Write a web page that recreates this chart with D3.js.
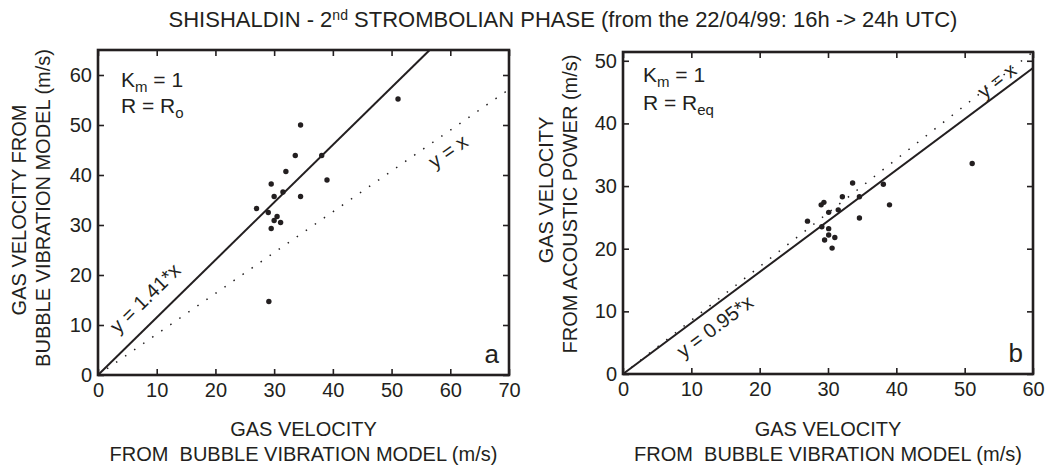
<!DOCTYPE html>
<html>
<head>
<meta charset="utf-8">
<script src="https://cdn.jsdelivr.net/npm/d3@7"></script>
<style>
  html, body { margin: 0; padding: 0; background: #fff; }
  svg { display: block; }
  text { font-family: "Liberation Sans", Arial, Helvetica, sans-serif; fill: #231f20; }
</style>
</head>
<body>
<svg id="chart" width="1047" height="466"></svg>
<script>
// Panel a: bubble-vibration velocity (x) vs. bubble-vibration velocity, K_m = 1, R = Ro (y)
const panelAX = [51.1, 34.5, 33.6, 38.1, 32.0, 29.5, 39.0, 30.0, 31.5, 34.5, 27.0, 29.0, 30.5, 30.0, 31.1, 29.5, 29.1];
const panelAY = [55.2, 50.0, 43.9, 43.9, 40.7, 38.2, 39.0, 35.7, 36.6, 35.7, 33.3, 32.5, 31.7, 30.9, 30.5, 29.3, 14.7];

// Panel b: bubble-vibration velocity (x) vs. acoustic-power velocity (y)
const panelBX = [33.6, 32.1, 34.6, 29.4, 29.0, 30.1, 31.5, 27.0, 34.6, 29.1, 30.1, 30.1, 29.5, 31.0, 30.6, 38.1, 39.0, 51.1];
const panelBY = [30.5, 28.3, 28.3, 27.4, 27.0, 25.8, 26.2, 24.4, 24.9, 23.5, 23.2, 22.2, 21.4, 21.8, 20.1, 30.3, 27.0, 33.6];

// Axis extents and tick values
const panelAXDomain = [0, 70];
const panelAYDomain = [0, 65];
const panelAXTicks = [0, 10, 20, 30, 40, 50, 60, 70];
const panelAYTicks = [0, 10, 20, 30, 40, 50, 60];

const panelBXDomain = [0, 60];
const panelBYDomain = [0, 51.4];
const panelBXTicks = [0, 10, 20, 30, 40, 50, 60];
const panelBYTicks = [0, 10, 20, 30, 40, 50];

// Reference lines y = k*x; "unit" is the plotted slope of y = x against the labelled axes
const panelAUnitSlope = 0.816;
const panelALines = [
  { k: 1,    label: "y = x",      dotted: true  },
  { k: 1.41, label: "y = 1.41*x", dotted: false }
];
const panelBUnitSlope = 0.857;
const panelBLines = [
  { k: 1,    label: "y = x",      dotted: true  },
  { k: 0.95, label: "y = 0.95*x", dotted: false }
];

const INK = "#231f20";
const svg = d3.select("#chart");

// Title with superscript ordinal
const title = svg.append("text")
  .attr("x", 563).attr("y", 27)
  .attr("text-anchor", "middle")
  .style("font-size", "22px");
title.append("tspan").text("SHISHALDIN - 2");
title.append("tspan").attr("dy", -7).style("font-size", "14px").text("nd");
title.append("tspan").attr("dy", 7).text(" STROMBOLIAN PHASE (from the 22/04/99: 16h -> 24h UTC)");

function drawPanel(cfg) {
  const x = d3.scaleLinear().domain(cfg.xDomain).range([cfg.left, cfg.right]);
  const y = d3.scaleLinear().domain(cfg.yDomain).range([cfg.bottom, cfg.top]);
  const g = svg.append("g");

  const styleAxis = sel => {
    sel.select(".domain").remove();
    sel.selectAll(".tick line").attr("stroke", INK).attr("stroke-width", 1.6);
    sel.selectAll(".tick text").attr("fill", INK)
      .style("font-family", '"Liberation Sans", Arial, sans-serif')
      .style("font-size", "20px");
  };

  g.append("g").attr("transform", `translate(0,${cfg.bottom})`)
    .call(d3.axisBottom(x).tickValues(cfg.xTicks).tickSizeInner(-6).tickSizeOuter(0).tickPadding(8))
    .call(styleAxis);
  g.append("g").attr("transform", `translate(0,${cfg.top})`)
    .call(d3.axisTop(x).tickValues(cfg.xTicks).tickSizeInner(-6).tickSizeOuter(0).tickFormat(""))
    .call(styleAxis);
  g.append("g").attr("transform", `translate(${cfg.left},0)`)
    .call(d3.axisLeft(y).tickValues(cfg.yTicks).tickSizeInner(-6).tickSizeOuter(0).tickPadding(6))
    .call(styleAxis);
  g.append("g").attr("transform", `translate(${cfg.right},0)`)
    .call(d3.axisRight(y).tickValues(cfg.yTicks).tickSizeInner(-6).tickSizeOuter(0).tickFormat(""))
    .call(styleAxis);

  // Reference lines through the origin, clipped to the frame
  cfg.lines.forEach(l => {
    const slope = l.k * cfg.unitSlope;
    const xEnd = Math.min(cfg.xDomain[1], cfg.yDomain[1] / slope);
    g.append("line")
      .attr("x1", x(0)).attr("y1", y(0))
      .attr("x2", x(xEnd)).attr("y2", y(slope * xEnd))
      .attr("stroke", INK)
      .attr("stroke-width", l.dotted ? 1.5 : 2)
      .attr("stroke-dasharray", l.dotted ? "1.5,9.5" : null);
  });

  // Data points
  g.selectAll("circle.pt")
    .data(cfg.xs.map((v, i) => [v, cfg.ys[i]]))
    .join("circle")
    .attr("class", "pt")
    .attr("cx", d => x(d[0])).attr("cy", d => y(d[1]))
    .attr("r", 2.7)
    .attr("fill", INK);

  // Frame
  g.append("rect")
    .attr("x", cfg.left).attr("y", cfg.top)
    .attr("width", cfg.right - cfg.left).attr("height", cfg.bottom - cfg.top)
    .attr("fill", "none").attr("stroke", INK).attr("stroke-width", 2.6);

  // Line labels, rotated along their lines (one position per entry of cfg.lines)
  cfg.lineLabels.forEach((p, i) => {
    const l = cfg.lines[i];
    const slope = l.k * cfg.unitSlope;
    const dxPix = x(10) - x(0), dyPix = y(0) - y(10 * slope);
    const ang = -Math.atan2(dyPix, dxPix) * 180 / Math.PI;
    g.append("text")
      .attr("transform", `translate(${p[0]},${p[1]}) rotate(${ang})`)
      .attr("text-anchor", "middle")
      .style("font-size", "20px")
      .text(l.label);
  });

  // Parameter annotation
  const k = g.append("text").attr("x", cfg.noteX).attr("y", cfg.noteY).style("font-size", "21px");
  k.append("tspan").text("K");
  k.append("tspan").attr("dy", 5).style("font-size", "15px").text("m");
  k.append("tspan").attr("dy", -5).text(" = 1");
  const r = g.append("text").attr("x", cfg.noteX).attr("y", cfg.noteY + cfg.noteGap).style("font-size", "21px");
  r.append("tspan").text("R = R");
  r.append("tspan").attr("dy", 5).style("font-size", "15px").text(cfg.rSub);

  // Panel letter
  g.append("text")
    .attr("x", cfg.right - 10).attr("y", cfg.bottom - 12)
    .attr("text-anchor", "end")
    .style("font-size", "26px")
    .text(cfg.letter);

  // X axis title
  const cx = (cfg.left + cfg.right) / 2;
  g.append("text").attr("x", cx).attr("y", 436).attr("text-anchor", "middle")
    .style("font-size", "20px").text("GAS VELOCITY");
  g.append("text").attr("x", cx).attr("y", 461).attr("text-anchor", "middle")
    .style("font-size", "20px").style("white-space", "pre").attr("xml:space", "preserve")
    .text("FROM  BUBBLE VIBRATION MODEL (m/s)");

  // Y axis title (two lines)
  cfg.yTitle.forEach((t, i) => {
    g.append("text")
      .attr("transform", `translate(${cfg.yTitleX[i]},${cfg.yTitleY[i]}) rotate(-90)`)
      .attr("text-anchor", "middle")
      .style("font-size", "20px")
      .text(t);
  });
}

drawPanel({
  left: 98, right: 509, top: 50, bottom: 375,
  xDomain: panelAXDomain, yDomain: panelAYDomain,
  xTicks: panelAXTicks, yTicks: panelAYTicks,
  xs: panelAX, ys: panelAY,
  lines: panelALines, unitSlope: panelAUnitSlope,
  lineLabels: [[452, 157], [150, 303]],
  noteX: 121, noteY: 87, noteGap: 26, rSub: "o",
  letter: "a",
  yTitle: ["GAS VELOCITY FROM", "BUBBLE VIBRATION MODEL (m/s)"],
  yTitleX: [26, 50], yTitleY: [210, 208]
});

drawPanel({
  left: 623, right: 1033, top: 52, bottom: 374,
  xDomain: panelBXDomain, yDomain: panelBYDomain,
  xTicks: panelBXTicks, yTicks: panelBYTicks,
  xs: panelBX, ys: panelBY,
  lines: panelBLines, unitSlope: panelBUnitSlope,
  lineLabels: [[1001, 86], [719, 332]],
  noteX: 643, noteY: 82, noteGap: 28, rSub: "eq",
  letter: "b",
  yTitle: ["GAS VELOCITY", "FROM ACOUSTIC POWER (m/s)"],
  yTitleX: [553, 577], yTitleY: [190, 204]
});
</script>
</body>
</html>
